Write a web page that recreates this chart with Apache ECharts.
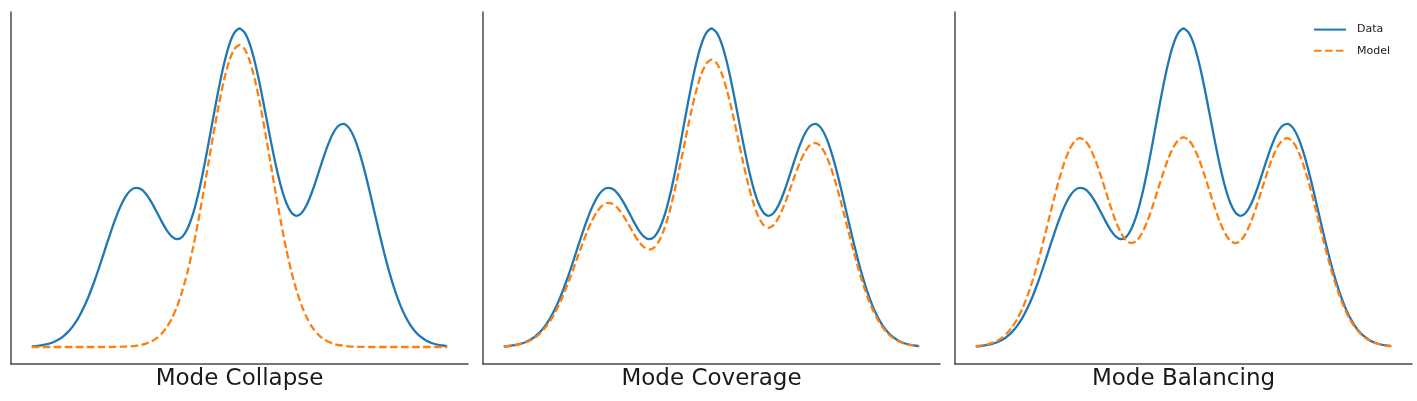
<!DOCTYPE html>
<html>
<head>
<meta charset="utf-8">
<script src="https://cdn.jsdelivr.net/npm/echarts@6/dist/echarts.min.js"></script>
<style>
  html, body { margin: 0; padding: 0; background: #ffffff; }
  #chart { width: 1417px; height: 401px; }
</style>
</head>
<body>
<div id="chart"></div>
<script>
// ---- Values (x position, curve height) ----
const xValues = [0, 0.125, 0.25, 0.375, 0.5, 0.625, 0.75, 0.875, 1, 1.125, 1.25, 1.375, 1.5, 1.625, 1.75, 1.875,
  2, 2.125, 2.25, 2.375, 2.5, 2.625, 2.75, 2.875, 3, 3.125, 3.25, 3.375, 3.5, 3.625, 3.75, 3.875,
  4, 4.125, 4.25, 4.375, 4.5, 4.625, 4.75, 4.875, 5, 5.125, 5.25, 5.375, 5.5, 5.625, 5.75, 5.875,
  6, 6.125, 6.25, 6.375, 6.5, 6.625, 6.75, 6.875, 7, 7.125, 7.25, 7.375, 7.5, 7.625, 7.75, 7.875,
  8, 8.125, 8.25, 8.375, 8.5, 8.625, 8.75, 8.875, 9, 9.125, 9.25, 9.375, 9.5, 9.625, 9.75, 9.875, 10];

const dataCurve = [0.6, 1.0, 1.8, 2.9, 4.5, 6.9, 10.4, 15.1, 21.4, 29.4, 39.4, 51.3, 65.0, 80.0, 95.9, 111.7,
  126.6, 139.6, 149.9, 156.5, 159.2, 157.9, 153.0, 145.1, 135.6, 125.6, 116.7, 110.3, 107.8, 110.3, 118.5, 132.3,
  151.7, 175.6, 202.7, 231.0, 258.4, 282.8, 301.9, 314.1, 318.5, 314.4, 302.6, 283.9, 260.2, 233.8, 206.9, 181.7,
  160.3, 144.3, 134.4, 131.1, 134.2, 142.7, 155.5, 170.8, 186.8, 201.6, 213.5, 221.0, 223.2, 219.6, 210.4, 196.1,
  177.9, 157.0, 134.6, 112.4, 91.3, 72.1, 55.4, 41.4, 30.0, 21.2, 14.6, 9.8, 6.3, 4.0, 2.5, 1.5, 0.9];

const modelCollapse = [0, 0, 0, 0, 0, 0, 0, 0, 0, 0, 0, 0, 0, 0, 0, 0,
  0.1, 0.2, 0.4, 0.7, 1.2, 2.0, 3.4, 5.5, 8.6, 13.3, 19.8, 28.9, 40.9, 56.3, 75.3, 98.0,
  124.2, 152.9, 183.2, 213.4, 241.8, 266.5, 285.7, 297.8, 302.0, 297.8, 285.7, 266.5, 241.8, 213.4, 183.2, 152.9,
  124.2, 98.0, 75.3, 56.3, 40.9, 28.9, 19.8, 13.3, 8.6, 5.5, 3.4, 2.0, 1.2, 0.7, 0.4, 0.2,
  0.1, 0, 0, 0, 0, 0, 0, 0, 0, 0, 0, 0, 0, 0, 0, 0, 0];

const modelCoverage = [0.6, 1.0, 1.6, 2.6, 4.1, 6.3, 9.4, 13.7, 19.4, 26.6, 35.7, 46.4, 58.8, 72.4, 86.8, 101.1,
  114.6, 126.4, 135.6, 141.7, 144.1, 142.9, 138.5, 131.4, 122.7, 113.6, 105.5, 99.8, 97.5, 99.7, 107.0, 119.5,
  136.9, 158.5, 182.9, 208.4, 233.2, 255.1, 272.4, 283.5, 287.3, 283.8, 273.0, 256.2, 234.9, 211.0, 186.8, 164.2,
  145.1, 130.7, 122.0, 119.2, 122.2, 130.2, 141.9, 156.0, 170.7, 184.3, 195.2, 202.1, 204.1, 200.8, 192.3, 179.3,
  162.6, 143.5, 123.1, 102.8, 83.5, 65.9, 50.6, 37.8, 27.5, 19.4, 13.3, 8.9, 5.8, 3.7, 2.3, 1.3, 0.8];

const modelBalancing = [0.8, 1.4, 2.3, 3.8, 5.9, 9.1, 13.7, 19.9, 28.1, 38.7, 51.9, 67.5, 85.5, 105.3, 126.2, 147.0,
  166.6, 183.7, 197.0, 205.6, 208.8, 206.5, 199.1, 187.3, 172.5, 156.1, 139.8, 125.2, 113.7, 106.3, 103.8, 106.3,
  113.7, 125.2, 139.8, 156.2, 172.6, 187.5, 199.3, 207.0, 209.6, 207.0, 199.3, 187.5, 172.6, 156.2, 139.8, 125.2,
  113.7, 106.3, 103.8, 106.3, 113.7, 125.2, 139.8, 156.1, 172.5, 187.3, 199.1, 206.5, 208.8, 205.6, 197.0, 183.7,
  166.6, 147.0, 126.2, 105.3, 85.5, 67.5, 51.9, 38.7, 28.1, 19.9, 13.7, 9.1, 5.9, 3.8, 2.3, 1.4, 0.8];

const panelTitles = ['Mode Collapse', 'Mode Coverage', 'Mode Balancing'];
const seriesNames = ['Data', 'Model'];
const modelCurves = [modelCollapse, modelCoverage, modelBalancing];

// ---- Build chart ----
const pairs = (ys) => xValues.map((x, i) => [x, ys[i]]);
const FONT = 'DejaVu Sans';
const BLUE = '#1f77b4';
const ORANGE = '#ff7f0e';
const AXIS_COLOR = '#4a4a4a';
const gridLefts = [11, 483, 955];

const grids = [], xAxes = [], yAxes = [], series = [];
panelTitles.forEach((title, k) => {
  grids.push({ left: gridLefts[k], top: 12, width: 457, height: 352 });
  xAxes.push({
    type: 'value', gridIndex: k, min: -0.5, max: 10.5,
    axisLine: { show: true, onZero: false, lineStyle: { color: AXIS_COLOR, width: 1.5 } },
    axisTick: { show: false }, axisLabel: { show: false }, splitLine: { show: false },
    name: title, nameLocation: 'middle', nameGap: 4,
    nameTextStyle: { fontFamily: FONT, fontSize: 23, color: '#1a1a1a', verticalAlign: 'top' }
  });
  yAxes.push({
    type: 'value', gridIndex: k, min: -17, max: 335,
    axisLine: { show: true, onZero: false, lineStyle: { color: AXIS_COLOR, width: 1.5 } },
    axisTick: { show: false }, axisLabel: { show: false }, splitLine: { show: false }
  });
  series.push({
    name: seriesNames[0], type: 'line', xAxisIndex: k, yAxisIndex: k,
    data: pairs(dataCurve), smooth: 0.25, symbol: 'none', silent: true,
    lineStyle: { color: BLUE, width: 2.3, join: 'round' }, itemStyle: { color: BLUE }, z: 2
  });
  series.push({
    name: seriesNames[1], type: 'line', xAxisIndex: k, yAxisIndex: k,
    data: pairs(modelCurves[k]), smooth: 0.25, symbol: 'none', silent: true,
    lineStyle: { color: ORANGE, width: 2.3, type: [7.5, 3.5], join: 'round' }, itemStyle: { color: ORANGE }, z: 3
  });
});

const chart = echarts.init(document.getElementById('chart'), null, { renderer: 'canvas' });
chart.setOption({
  animation: false,
  backgroundColor: '#ffffff',
  grid: grids,
  xAxis: xAxes,
  yAxis: yAxes,
  legend: {
    data: seriesNames,
    orient: 'vertical',
    left: 1313, top: 24, padding: 0,
    itemWidth: 32, itemHeight: 14, itemGap: 10,
    itemStyle: { opacity: 0 },
    textStyle: { fontFamily: FONT, fontSize: 11, color: '#1a1a1a', padding: [0, 0, 0, 6] }
  },
  series: series
});
</script>
</body>
</html>
